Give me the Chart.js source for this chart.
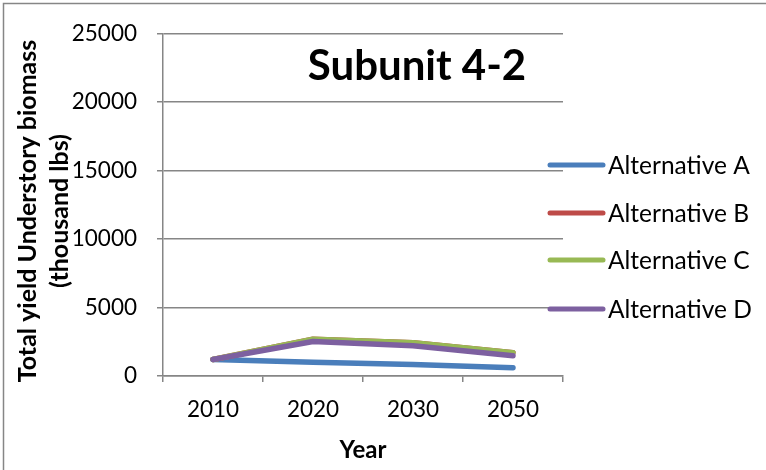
<!DOCTYPE html>
<html>
<head>
<meta charset="utf-8">
<script src="https://cdn.jsdelivr.net/npm/chart.js@4/dist/chart.umd.min.js"></script>
<style>
html,body{margin:0;padding:0;background:#fff;}
#wrap{width:766px;height:470px;position:relative;}
</style>
</head>
<body>
<div id="wrap"><canvas id="c" width="766" height="470"></canvas></div>
<script>
const categories = ["2010", "2020", "2030", "2050"];
const altA = [1200, 1000, 840, 600];
const altB = [1200, 2680, 2420, 1690];
const altC = [1200, 2680, 2420, 1690];
const altD = [1200, 2520, 2200, 1470];
const seriesNames = ["Alternative A", "Alternative B", "Alternative C", "Alternative D"];
const seriesColors = ["#4a7ebb", "#be4b48", "#98b954", "#7d60a0"];
const yTicks = [0, 5000, 10000, 15000, 20000, 25000];
const chartTitle = "Subunit 4-2";
const yTitle = ["Total yield Understory biomass", "(thousand lbs)"];
const xTitle = "Year";

const FONT = "Lato, 'Open Sans', sans-serif";
const GRID = "#868686";

const extras = {
  id: "extras",
  afterDraw(chart) {
    const ctx = chart.ctx;
    ctx.save();
    // outer border
    ctx.strokeStyle = GRID;
    ctx.lineWidth = 1.5;
    ctx.strokeRect(3.5, 3.5, 800, 500);
    // title
    ctx.fillStyle = "#000";
    ctx.font = "bold 42px " + FONT;
    ctx.textAlign = "center";
    ctx.textBaseline = "middle";
    ctx.fillText(chartTitle, 417, 66);
    // x title
    ctx.font = "bold 24px " + FONT;
    ctx.fillText(xTitle, 363, 450);
    // y title
    ctx.save();
    ctx.translate(0, 211);
    ctx.rotate(-Math.PI / 2);
    ctx.font = "bold 25px " + FONT;
    ctx.fillText(yTitle[0], 0, 28);
    ctx.fillText(yTitle[1], 0, 60);
    ctx.restore();
    // legend
    const rows = [165, 213, 260, 309];
    ctx.font = "24.5px " + FONT;
    ctx.textAlign = "left";
    chart.data.datasets.forEach((ds, i) => {
      const y = rows[i];
      ctx.strokeStyle = ds.borderColor;
      ctx.lineWidth = 5;
      ctx.lineCap = "round";
      ctx.beginPath();
      ctx.moveTo(550, y);
      ctx.lineTo(603, y);
      ctx.stroke();
      ctx.fillStyle = "#000";
      ctx.fillText(ds.label, 608, y + 1);
    });
    ctx.restore();
  }
};

const datasets = [altA, altB, altC, altD].map((d, i) => ({
  label: seriesNames[i],
  data: d,
  order: 3 - i,
  borderColor: seriesColors[i],
  backgroundColor: seriesColors[i],
  borderWidth: 5.5,
  pointRadius: 0,
  tension: 0,
  borderCapStyle: "round",
  borderJoinStyle: "round",
  fill: false
}));

new Chart(document.getElementById("c"), {
  type: "line",
  data: { labels: categories, datasets },
  options: {
    responsive: false,
    animation: false,
    events: [],
    layout: { padding: { left: 0, top: 32, right: 203, bottom: 0 } },
    plugins: { legend: { display: false }, tooltip: { enabled: false } },
    scales: {
      x: {
        offset: true,
        grid: { display: true, drawOnChartArea: false, offset: true, color: GRID, tickLength: 6, lineWidth: 1.5 },
        border: { color: GRID, width: 1.5 },
        ticks: { color: "#000", font: { family: FONT, size: 22.5 }, padding: 14, maxRotation: 0 },
        afterFit(s) { s.height = 94; }
      },
      y: {
        min: 0, max: 25000,
        afterBuildTicks(s) { s.ticks = yTicks.map(v => ({ value: v })); },
        grid: { color: GRID, tickLength: 6, lineWidth: 1.5 },
        border: { color: GRID, width: 1.5 },
        ticks: { color: "#000", font: { family: FONT, size: 22.5 }, padding: 20, callback: v => String(v) },
        afterFit(s) { s.width = 163; }
      }
    }
  },
  plugins: [extras]
});
</script>
</body>
</html>
